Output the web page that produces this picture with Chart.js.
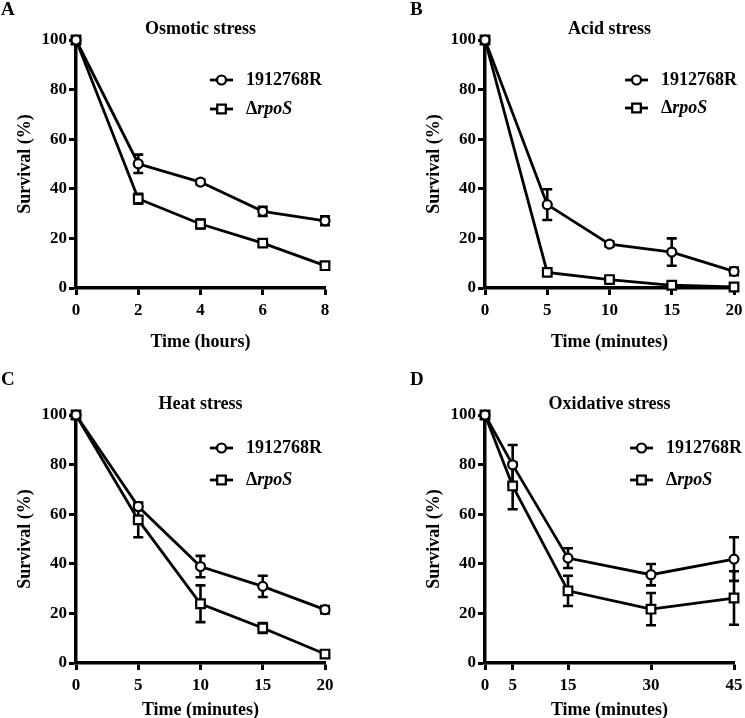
<!DOCTYPE html>
<html>
<head>
<meta charset="utf-8">
<script src="https://cdn.jsdelivr.net/npm/chart.js@4.4.1/dist/chart.umd.min.js"></script>
<style>
  html, body { margin: 0; padding: 0; background: #fff; overflow: hidden; }
  body { width: 745px; height: 718px; position: relative; }
  canvas { position: absolute; }
</style>
</head>
<body>
<canvas id="cA" width="372" height="353" style="left:0;top:0"></canvas>
<canvas id="cB" width="372" height="353" style="left:409px;top:0"></canvas>
<canvas id="cC" width="372" height="366" style="left:0;top:355px"></canvas>
<canvas id="cD" width="372" height="366" style="left:409px;top:355px"></canvas>
<script>
// ─── Data ────────────────────────────────────────────────────────────────────
const strainNames = ['1912768R', 'ΔrpoS'];
const survivalTicks = [0, 20, 40, 60, 80, 100];

const osmoticTime = [0, 2, 4, 6, 8];
const osmoticWT = [100, 50.1, 42.7, 30.9, 27.1];
const osmoticWTErr = [0, 3.7, 1.0, 1.8, 1.8];
const osmoticRpoS = [100, 36.0, 25.8, 18.1, 9.0];
const osmoticRpoSErr = [0, 2.0, 1.8, 1.0, 1.0];

const acidTime = [0, 5, 10, 15, 20];
const acidWT = [100, 33.6, 17.7, 14.5, 6.7];
const acidWTErr = [0, 6.2, 1.0, 5.5, 1.5];
const acidRpoS = [100, 6.3, 3.4, 1.1, 0.4];
const acidRpoSErr = [0, 0.5, 0.8, 0.8, 0.3];

const heatTime = [0, 5, 10, 15, 20];
const heatWT = [100, 63.1, 38.9, 30.9, 21.5];
const heatWTErr = [0, 1.5, 4.3, 4.3, 1.5];
const heatRpoS = [100, 57.7, 23.9, 14.1, 3.6];
const heatRpoSErr = [0, 7.0, 7.4, 2.0, 0.5];

const oxidativeTime = [0, 5, 15, 30, 45];
const oxidativeTicks = [0, 5, 15, 30, 45];
const oxidativeWT = [100, 79.9, 42.3, 35.6, 41.9];
const oxidativeWTErr = [0, 8.0, 4.0, 4.3, 8.8];
const oxidativeRpoS = [100, 71.4, 29.1, 21.7, 26.2];
const oxidativeRpoSErr = [0, 9.4, 6.1, 6.5, 10.8];

// ─── Panel layout ────────────────────────────────────────────────────────────
const FONT = '"Liberation Serif", "Times New Roman", serif';

const panels = [
  { id: 'cA', letter: 'A', title: 'Osmotic stress', xTitle: 'Time (hours)',
    time: osmoticTime, wt: osmoticWT, wtErr: osmoticWTErr, mut: osmoticRpoS, mutErr: osmoticRpoSErr,
    xMax: 8, xStep: 2, padTop: 40, xHeight: 65, letterY: 15, legendX: 134, legendY: [40, 69] },
  { id: 'cB', letter: 'B', title: 'Acid stress', xTitle: 'Time (minutes)',
    time: acidTime, wt: acidWT, wtErr: acidWTErr, mut: acidRpoS, mutErr: acidRpoSErr,
    xMax: 20, xStep: 5, padTop: 40, xHeight: 65, letterY: 15, legendX: 140, legendY: [40, 68] },
  { id: 'cC', letter: 'C', title: 'Heat stress', xTitle: 'Time (minutes)',
    time: heatTime, wt: heatWT, wtErr: heatWTErr, mut: heatRpoS, mutErr: heatRpoSErr,
    xMax: 20, xStep: 5, padTop: 60, xHeight: 58, letterY: 30, legendX: 134, legendY: [33, 65] },
  { id: 'cD', letter: 'D', title: 'Oxidative stress', xTitle: 'Time (minutes)',
    time: oxidativeTime, wt: oxidativeWT, wtErr: oxidativeWTErr, mut: oxidativeRpoS, mutErr: oxidativeRpoSErr,
    xMax: 45, xTicks: oxidativeTicks, padTop: 60, xHeight: 58, letterY: 30, legendX: 145, legendY: [33, 65] },
];

// ─── Plugins ─────────────────────────────────────────────────────────────────
const errorBars = {
  id: 'errorBars',
  beforeDatasetsDraw(chart) {
    const { ctx, scales: { x, y } } = chart;
    ctx.save();
    ctx.strokeStyle = '#000';
    ctx.lineWidth = 2.6;
    chart.data.datasets.forEach(ds => {
      ds.data.forEach((pt, i) => {
        const e = ds.errors[i];
        if (!e) return;
        const px = x.getPixelForValue(pt.x);
        const top = y.getPixelForValue(pt.y + e);
        const bot = y.getPixelForValue(pt.y - e);
        ctx.beginPath();
        ctx.moveTo(px, top); ctx.lineTo(px, bot);
        ctx.moveTo(px - 5, top); ctx.lineTo(px + 5, top);
        ctx.moveTo(px - 5, bot); ctx.lineTo(px + 5, bot);
        ctx.stroke();
      });
    });
    ctx.restore();
  }
};

function drawMarker(ctx, style, x, y) {
  ctx.beginPath();
  if (style === 'circle') ctx.arc(x, y, 4.5, 0, Math.PI * 2);
  else ctx.rect(x - 4.3, y - 4.3, 8.6, 8.6);
  ctx.fillStyle = '#fff';
  ctx.fill();
  ctx.lineWidth = 2.2;
  ctx.stroke();
}

const panelDecor = {
  id: 'panelDecor',
  afterDraw(chart, args, opts) {
    const { ctx, chartArea } = chart;
    ctx.save();
    ctx.fillStyle = '#000';
    ctx.strokeStyle = '#000';
    // panel letter
    ctx.font = 'bold 19px ' + FONT;
    ctx.textAlign = 'left';
    ctx.textBaseline = 'alphabetic';
    ctx.fillText(opts.letter, chartArea.left - 75, opts.letterY);
    // panel title
    ctx.font = 'bold 18px ' + FONT;
    ctx.textAlign = 'center';
    ctx.fillText(opts.title, (chartArea.left + chartArea.right) / 2, chartArea.top - 6.5);
    // legend
    chart.data.datasets.forEach((ds, i) => {
      const x0 = chartArea.left + opts.legendX;
      const y0 = chartArea.top + opts.legendY[i];
      ctx.lineWidth = 2.8;
      ctx.beginPath();
      ctx.moveTo(x0, y0); ctx.lineTo(x0 + 23, y0);
      ctx.stroke();
      drawMarker(ctx, ds.pointStyle, x0 + 11.5, y0);
      ctx.fillStyle = '#000';
      ctx.textAlign = 'left';
      ctx.textBaseline = 'middle';
      let tx = x0 + 36;
      let label = ds.label;
      if (label.startsWith('Δ')) {
        ctx.font = 'bold 18px ' + FONT;
        ctx.fillText('Δ', tx, y0);
        tx += ctx.measureText('Δ').width;
        label = label.slice(1);
        ctx.font = 'italic bold 18px ' + FONT;
      } else {
        ctx.font = 'bold 18px ' + FONT;
      }
      ctx.fillText(label, tx, y0);
    });
    ctx.restore();
  }
};

// ─── Charts ──────────────────────────────────────────────────────────────────
function series(xs, ys) {
  return xs.map((x, i) => ({ x, y: ys[i] }));
}

function makeChart(p) {
  const tickFont = { family: FONT, size: 17, weight: 'bold' };
  const titleFont = { family: FONT, size: 18, weight: 'bold' };
  const axisGrid = { display: true, drawOnChartArea: false, drawTicks: true, tickLength: 7, tickWidth: 3, tickColor: '#000' };
  const axisBorder = { display: true, color: '#000', width: 3.5 };

  new Chart(document.getElementById(p.id), {
    type: 'line',
    data: {
      datasets: [
        {
          label: strainNames[0],
          data: series(p.time, p.wt),
          errors: p.wtErr,
          pointStyle: 'circle',
          pointRadius: 4.5,
        },
        {
          label: strainNames[1],
          data: series(p.time, p.mut),
          errors: p.mutErr,
          pointStyle: 'rect',
          pointRadius: 6.1,
        },
      ].map(ds => Object.assign(ds, {
        borderColor: '#000',
        borderWidth: 2.8,
        pointBackgroundColor: '#fff',
        pointBorderColor: '#000',
        pointBorderWidth: 2.2,
        tension: 0,
        clip: false,
      })),
    },
    options: {
      responsive: false,
      animation: false,
      devicePixelRatio: 1,
      layout: { padding: { left: 15, top: p.padTop, right: 47, bottom: 0 } },
      plugins: {
        legend: { display: false },
        tooltip: { enabled: false },
        panelDecor: { letter: p.letter, title: p.title, letterY: p.letterY, legendX: p.legendX, legendY: p.legendY },
      },
      scales: {
        x: {
          type: 'linear',
          min: 0, max: p.xMax,
          grid: axisGrid,
          border: axisBorder,
          ticks: Object.assign({ color: '#000', font: tickFont, padding: 5, maxRotation: 0 }, p.xStep ? { stepSize: p.xStep } : {}),
          afterBuildTicks: p.xTicks ? (s) => { s.ticks = p.xTicks.map(v => ({ value: v })); } : undefined,
          afterFit: (s) => { s.height = p.xHeight; },
          title: { display: true, text: p.xTitle, color: '#000', font: titleFont, padding: 0 },
        },
        y: {
          min: 0, max: 100,
          grid: axisGrid,
          border: axisBorder,
          ticks: { color: '#000', font: tickFont, padding: 2, stepSize: 20 },
          afterBuildTicks: (s) => { s.ticks = survivalTicks.map(v => ({ value: v })); },
          afterFit: (s) => { s.width = 61; },
          title: { display: true, text: 'Survival (%)', color: '#000', font: titleFont, padding: 0 },
        },
      },
    },
    plugins: [errorBars, panelDecor],
  });
}

panels.forEach(makeChart);
</script>
</body>
</html>
